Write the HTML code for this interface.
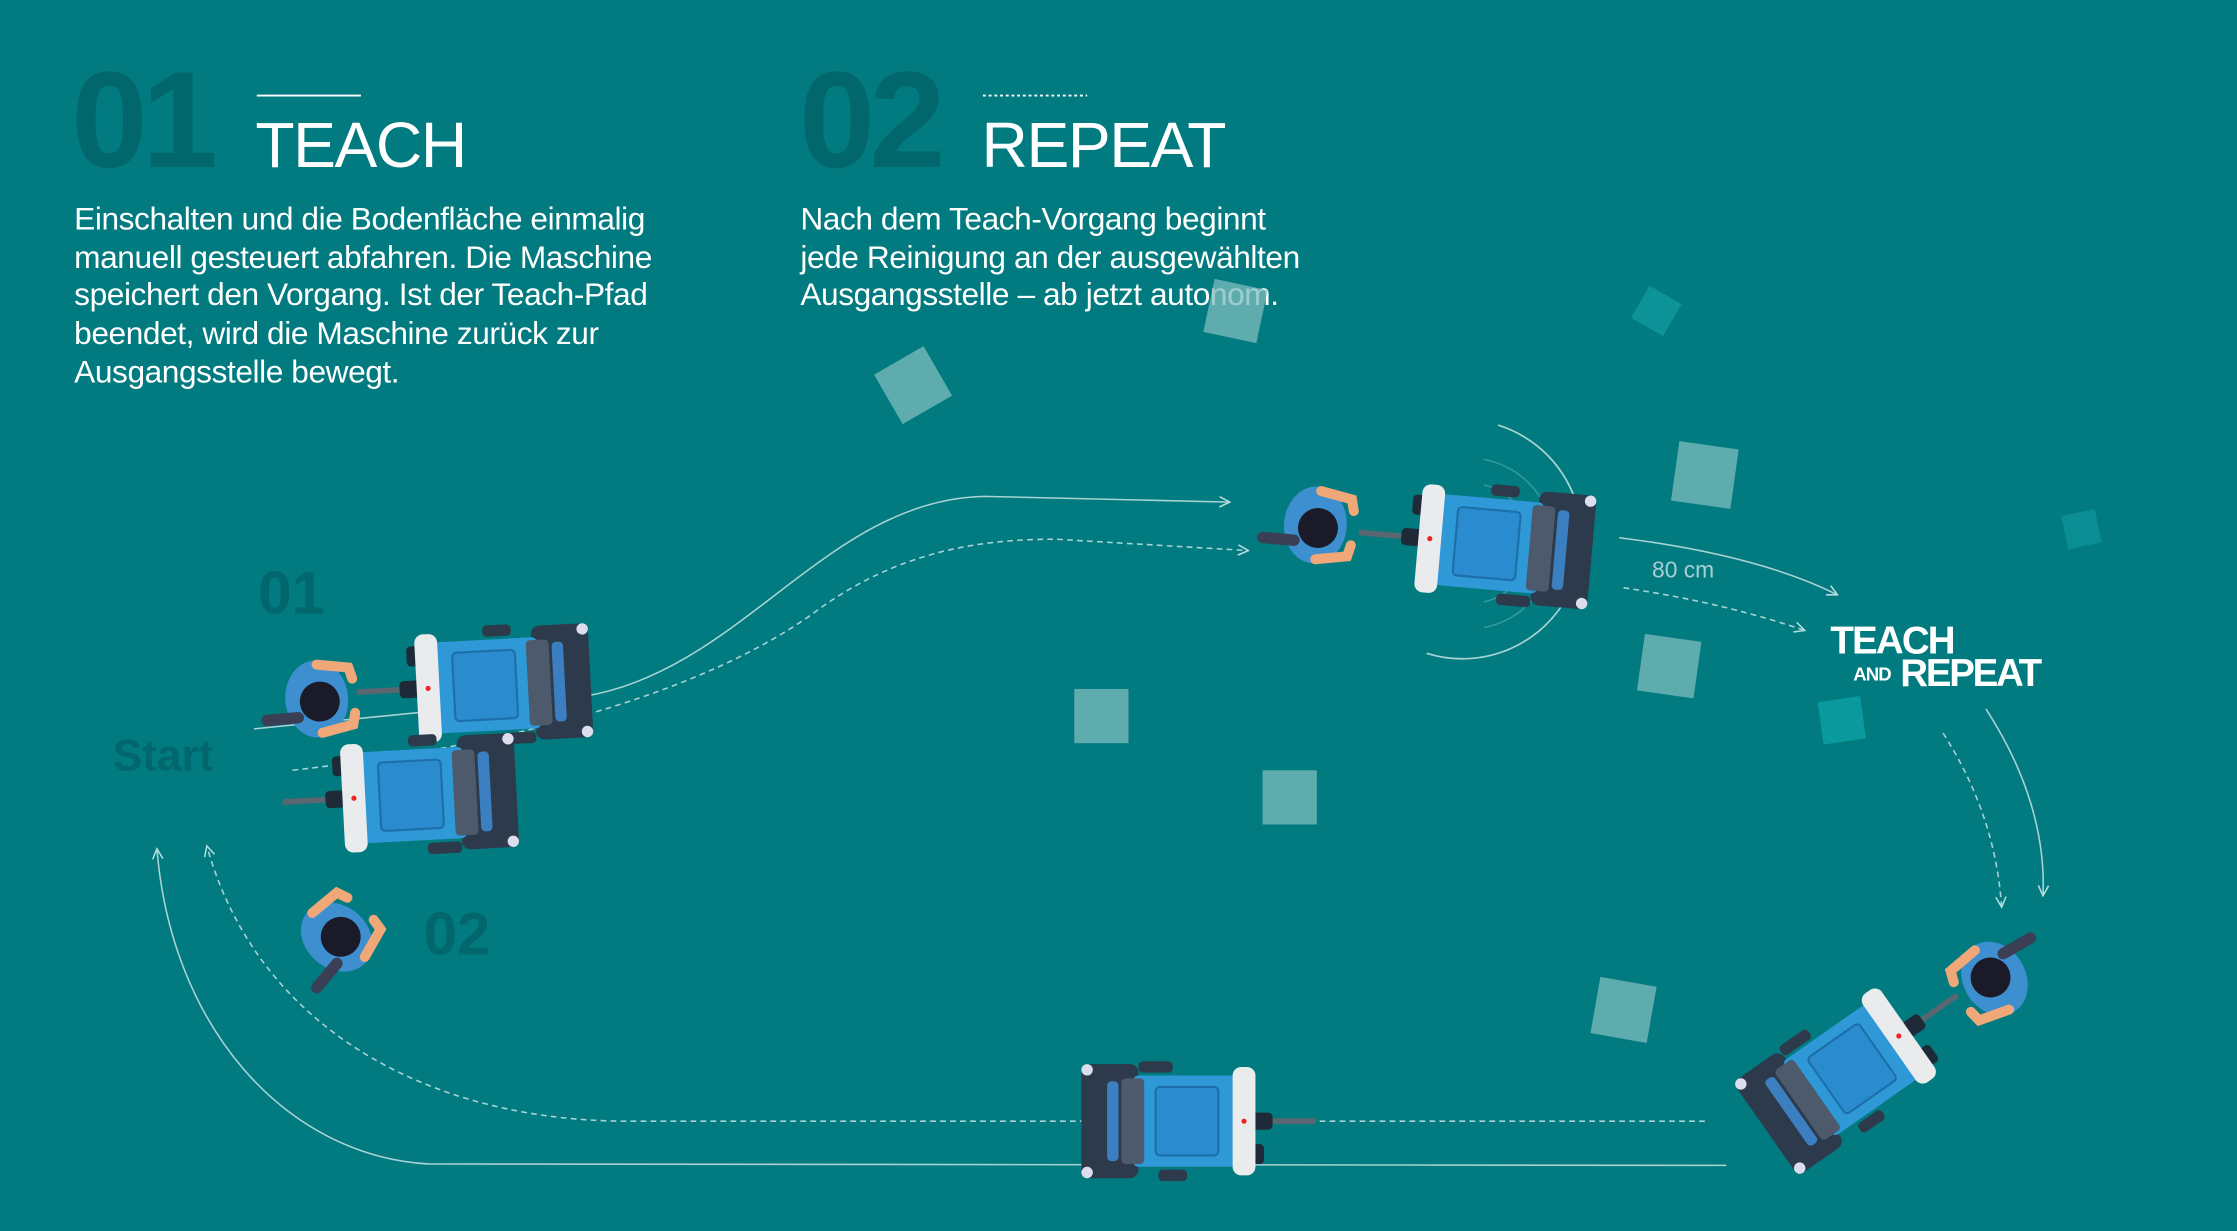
<!DOCTYPE html>
<html><head><meta charset="utf-8"><style>
html,body{margin:0;padding:0;background:#017b80;width:2237px;height:1231px;overflow:hidden}
svg{display:block}
text{font-family:"Liberation Sans",sans-serif}
</style></head><body>
<svg width="2237" height="1231" viewBox="0 0 1568 863" preserveAspectRatio="none" xmlns="http://www.w3.org/2000/svg">
<defs>
<marker id="ar" viewBox="0 0 10 10" refX="9" refY="5" markerWidth="9" markerHeight="9" orient="auto" markerUnits="userSpaceOnUse">
<path d="M1,1 L9,5 L1,9" fill="none" stroke="#b9dcdc" stroke-width="1.2"/></marker>
<g id="mach">
<rect x="-100" y="-2" width="48" height="4" fill="#5a6670"/>
<rect x="-70" y="-6" width="16" height="12" rx="3" fill="#1e2a38"/>
<rect x="-64" y="-30" width="10" height="14" rx="3" fill="#1e2a38"/>
<rect x="24" y="-40" width="40" height="80" rx="6" fill="#2c3a4c"/>
<circle cx="60" cy="-36" r="4" fill="#dde"/><circle cx="60" cy="36" r="4" fill="#dde"/>
<rect x="-10" y="-42" width="20" height="8" rx="3" fill="#2c3a4c"/>
<rect x="0" y="34" width="24" height="8" rx="3" fill="#2c3a4c"/>
<rect x="-46" y="-32" width="74" height="64" rx="4" fill="#2f98d6"/>
<rect x="-32" y="-24" width="44" height="48" rx="3" fill="#2a8ccf" stroke="#1c6fa8" stroke-width="1.5"/>
<rect x="20" y="-30" width="16" height="60" rx="3" fill="#4c5a6c"/>
<rect x="38" y="-28" width="8" height="56" rx="3" fill="#3b7fc0"/>
<rect x="-58" y="-38" width="16" height="76" rx="6" fill="#e9ebec"/>
<circle cx="-50" cy="0" r="1.8" fill="#e22"/>
</g>
<g id="pers">
<ellipse cx="0" cy="0" rx="22" ry="27" fill="#3d8fd0"/>
<path d="M2,-24 L24,-20 L26,-12" stroke="#f0a878" stroke-width="7" fill="none" stroke-linecap="round"/>
<path d="M2,24 L24,20 L26,12" stroke="#f0a878" stroke-width="7" fill="none" stroke-linecap="round"/>
<rect x="-40" y="8" width="30" height="8" rx="4" fill="#3a3f55"/>
<circle cx="2" cy="2" r="14" fill="#1b1a28"/>
</g>
</defs>

<!-- headers -->
<text x="50" y="117" font-size="96" font-weight="bold" fill="#02676c" letter-spacing="-4">01</text>
<line x1="180" y1="67" x2="253" y2="67" stroke="#fff" stroke-width="1.3"/>
<text x="179" y="117" font-size="45" fill="#fff" letter-spacing="-1">TEACH</text>
<text x="560" y="117" font-size="96" font-weight="bold" fill="#02676c" letter-spacing="-4">02</text>
<line x1="689" y1="67" x2="762" y2="67" stroke="#fff" stroke-width="1.3" stroke-dasharray="2 2"/>
<text x="688" y="117" font-size="45" fill="#fff" letter-spacing="-1">REPEAT</text>

<g font-size="22.2" fill="#fff" letter-spacing="-0.3">
<text x="52" y="161">Einschalten und die Bodenfläche einmalig</text>
<text x="52" y="188">manuell gesteuert abfahren. Die Maschine</text>
<text x="52" y="214">speichert den Vorgang. Ist der Teach-Pfad</text>
<text x="52" y="241">beendet, wird die Maschine zurück zur</text>
<text x="52" y="268">Ausgangsstelle bewegt.</text>
<text x="561" y="161">Nach dem Teach-Vorgang beginnt</text>
<text x="561" y="188">jede Reinigung an der ausgewählten</text>
<text x="561" y="214">Ausgangsstelle – ab jetzt autonom.</text>
</g>

<!-- squares -->
<g fill="#7fbcbf" fill-opacity="0.75">
<rect x="-20" y="-20" width="40" height="40" transform="translate(640,270) rotate(-30)"/>
<rect x="-19" y="-19" width="38" height="38" transform="translate(866,218) rotate(12)"/>
<rect x="-21" y="-21" width="42" height="42" transform="translate(1195,333) rotate(8)"/>
<rect x="-20" y="-20" width="40" height="40" transform="translate(1170,467) rotate(8)"/>
<rect x="753" y="483" width="38" height="38"/>
<rect x="885" y="540" width="38" height="38"/>
<rect x="-20" y="-20" width="40" height="40" transform="translate(1138,708) rotate(10)"/>
</g>
<rect x="-13" y="-13" width="26" height="26" transform="translate(1161,218) rotate(30)" fill="#0d9297"/>
<rect x="-12" y="-12" width="24" height="24" transform="translate(1459,371) rotate(-12)" fill="#0d9297" fill-opacity="0.8"/>
<rect x="-15" y="-15" width="30" height="30" transform="translate(1291,505) rotate(-8)" fill="#0a9a9e"/>

<!-- labels -->
<text x="181" y="430" font-size="42" font-weight="bold" fill="#02676c">01</text>
<text x="79" y="540" font-size="31" font-weight="bold" fill="#02676c">Start</text>
<text x="297" y="669" font-size="42" font-weight="bold" fill="#02676c">02</text>

<!-- paths -->
<g fill="none" stroke="#a9d3d4" stroke-width="1.1">
<path d="M178,511 L410,488 C520,470 580,350 690,348 L862,352" marker-end="url(#ar)"/>
<path d="M205,540 C380,520 500,480 570,430 C630,385 690,378 740,378 L875,386" stroke-dasharray="4 3" marker-end="url(#ar)"/>
<path d="M1135,377 C1200,385 1250,398 1288,417" marker-end="url(#ar)"/>
<path d="M1138,412 C1190,420 1230,430 1265,442" stroke-dasharray="4 3" marker-end="url(#ar)"/>
<path d="M1392,497 C1420,540 1434,585 1432,628" marker-end="url(#ar)"/>
<path d="M1362,514 C1385,550 1400,590 1403,636" stroke-dasharray="4 3" marker-end="url(#ar)"/>
<path d="M1210,817 L300,816 C200,810 120,720 110,595" marker-end="url(#ar)"/>
<path d="M1195,786 L440,786 C300,786 180,720 145,593" stroke-dasharray="4 3" marker-end="url(#ar)"/>
<path d="M1050,298 A80,80 0 1 1 1000,458" stroke-width="1.2"/>
</g>
<g fill="none" stroke="#3a9aa0" stroke-width="1">
<path d="M1040,322 A60,60 0 0 1 1040,440"/>
<path d="M1040,340 A42,42 0 0 1 1040,422"/>
</g>
<text x="1158" y="405" font-size="16" fill="#a8cfd0">80 cm</text>

<!-- logo -->
<text x="1283" y="458" font-size="27" font-weight="bold" fill="#fff" letter-spacing="-1.3">TEACH</text>
<text x="1299" y="477" font-size="13" font-weight="bold" fill="#fff" letter-spacing="-0.6">AND</text>
<text x="1332" y="481" font-size="27" font-weight="bold" fill="#fff" letter-spacing="-1.6">REPEAT</text>

<!-- machines & people -->
<use href="#mach" transform="translate(350,480) rotate(-3)"/>
<use href="#pers" transform="translate(222,490) rotate(-5)"/>
<use href="#mach" transform="translate(298,557) rotate(-3)"/>
<use href="#pers" transform="translate(236,657) rotate(-50)"/>
<use href="#mach" transform="translate(1052,382) rotate(5)"/>
<use href="#pers" transform="translate(922,368) rotate(5)"/>
<use href="#mach" transform="translate(822,786) rotate(180)"/>
<use href="#mach" transform="translate(1290,755) rotate(145)"/>
<use href="#pers" transform="translate(1398,686) rotate(150)"/>
</svg>
</body></html>
